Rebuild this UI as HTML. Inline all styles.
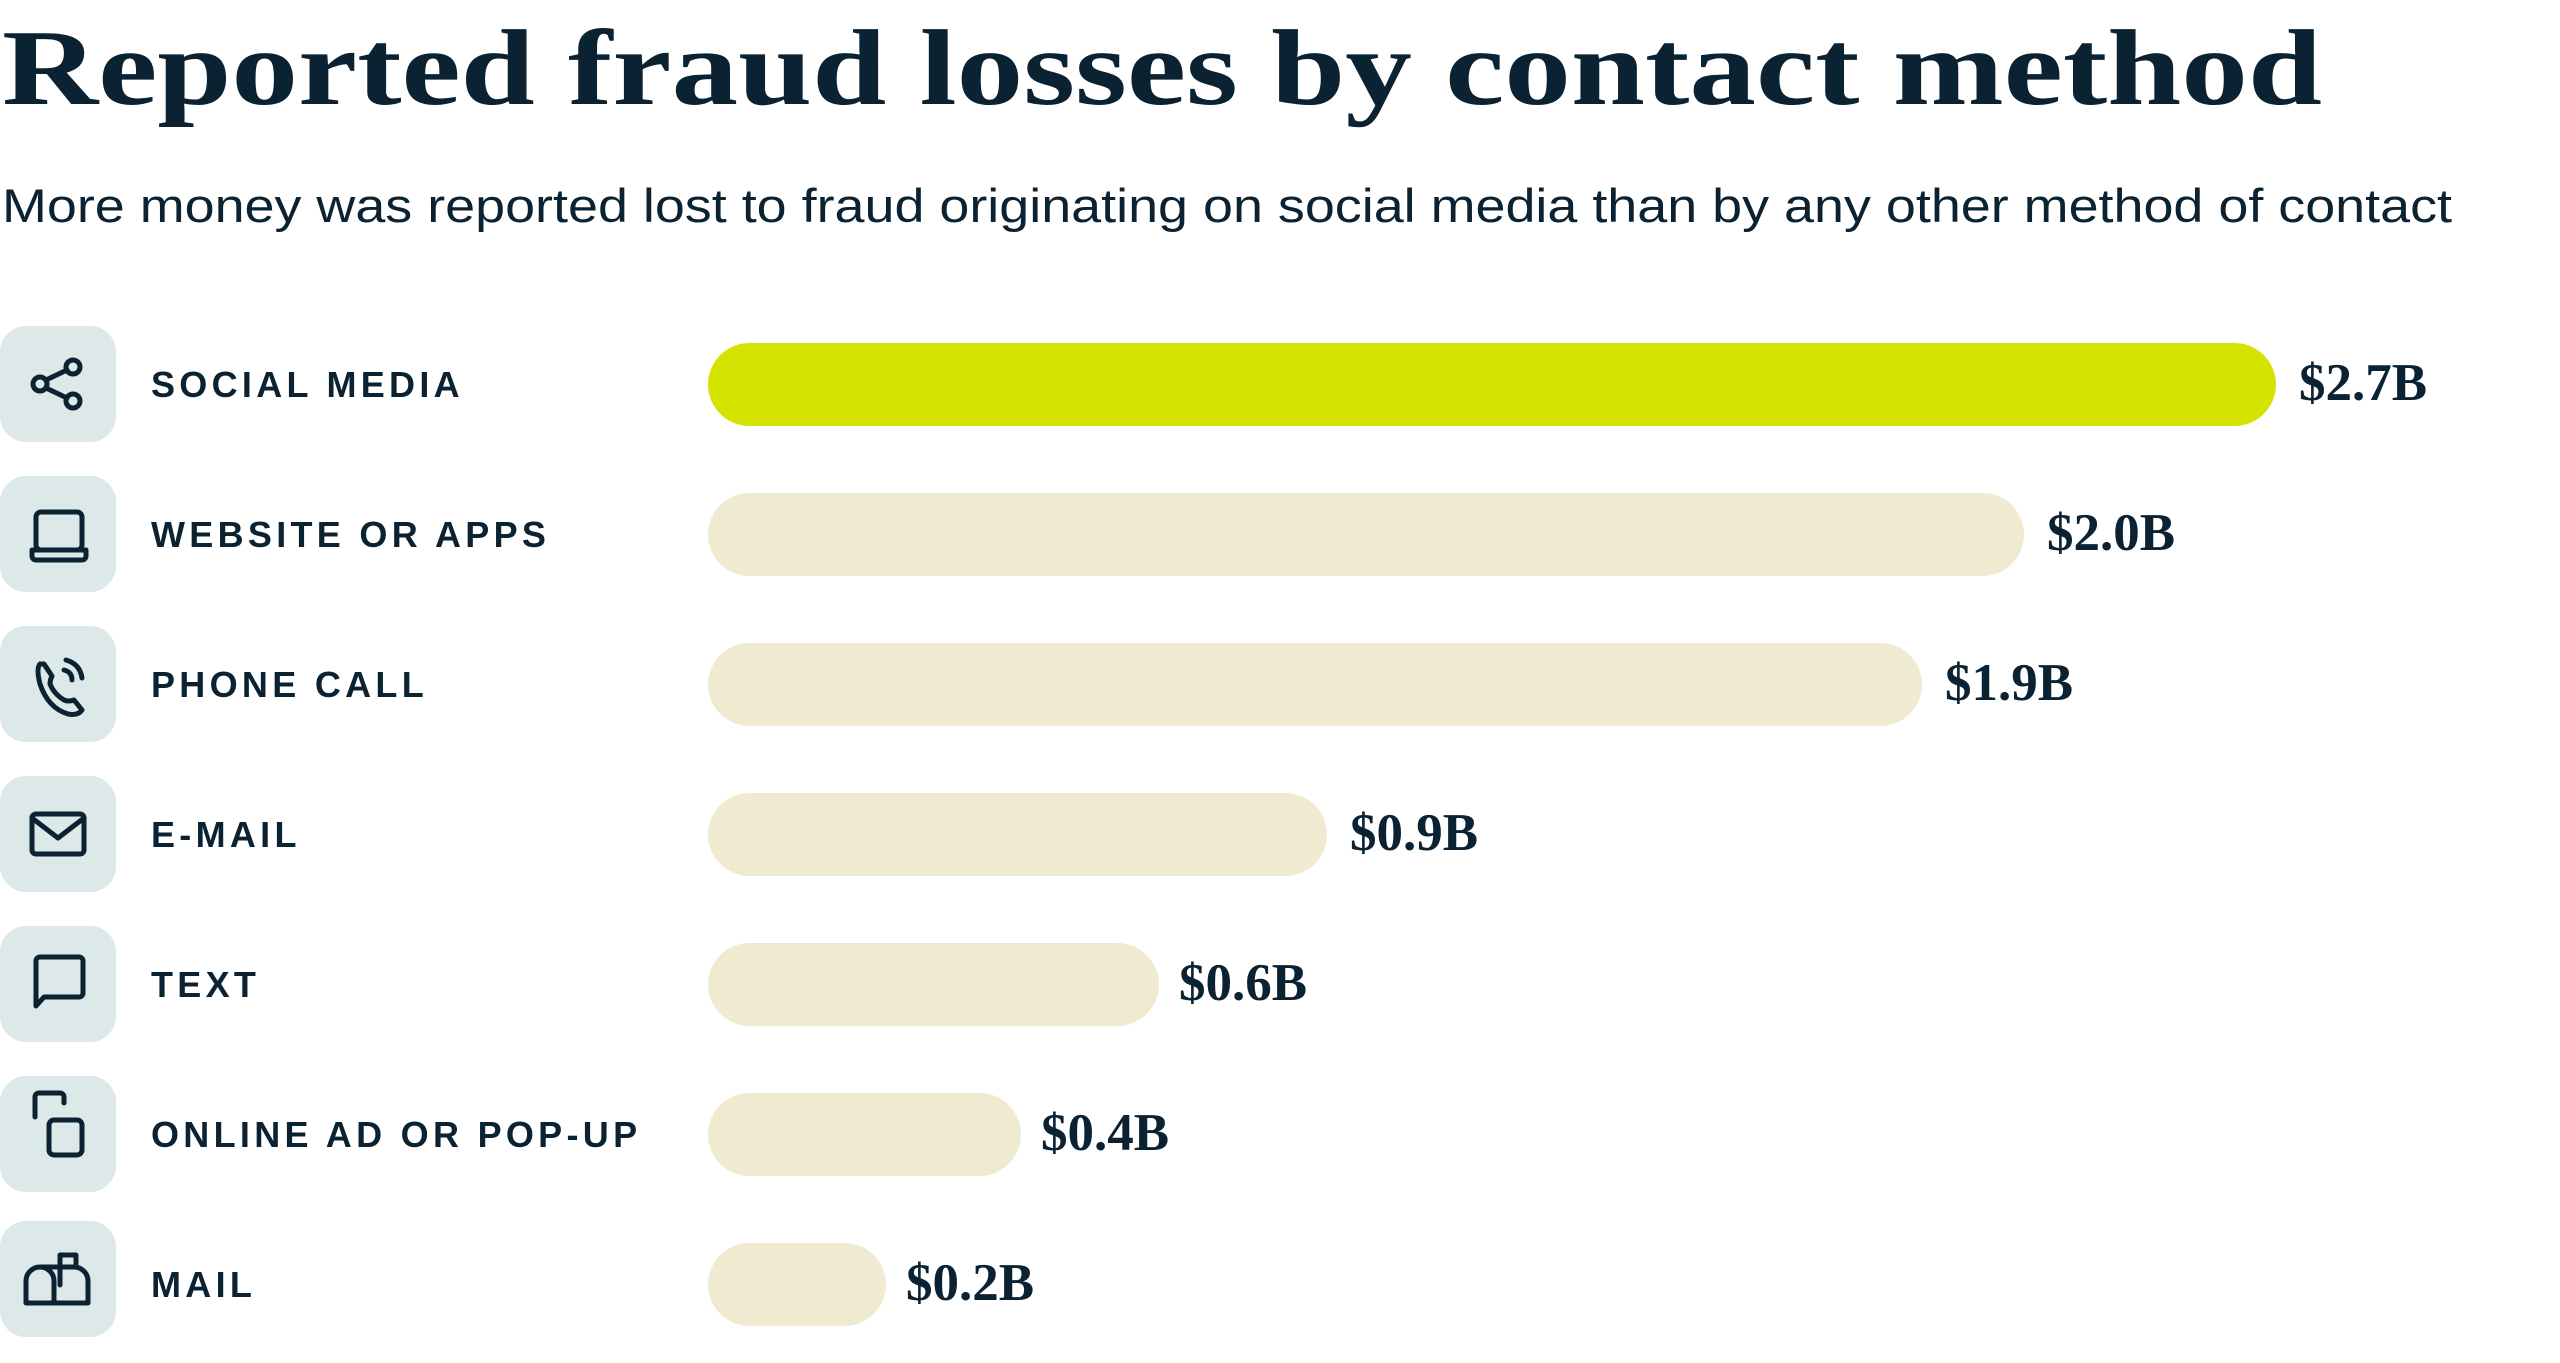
<!DOCTYPE html>
<html><head><meta charset="utf-8"><style>
html,body{margin:0;padding:0;background:#fff;}
svg{display:block;}
.t{font-family:"Liberation Serif",serif;font-weight:bold;fill:#0b2233;}
.s{font-family:"Liberation Sans",sans-serif;fill:#0b2233;}
.l{font-family:"Liberation Sans",sans-serif;font-weight:bold;fill:#0b2233;font-size:36px;letter-spacing:4.3px;}
.v{font-family:"Liberation Serif",serif;font-weight:bold;fill:#0b2233;font-size:53px;}
.i{fill:none;stroke:#0b2233;stroke-width:5;stroke-linecap:round;stroke-linejoin:round;}
</style></head><body>
<svg width="2560" height="1363" viewBox="0 0 2560 1363" xmlns="http://www.w3.org/2000/svg">
<text class="t" x="2" y="104" font-size="108" textLength="2320" lengthAdjust="spacingAndGlyphs">Reported fraud losses by contact method</text>
<text class="s" x="2" y="222" font-size="47" textLength="2450" lengthAdjust="spacingAndGlyphs">More money was reported lost to fraud originating on social media than by any other method of contact</text>

<g fill="#dde8e8">
<rect x="0" y="326" width="116" height="116" rx="26"/>
<rect x="0" y="476" width="116" height="116" rx="26"/>
<rect x="0" y="626" width="116" height="116" rx="26"/>
<rect x="0" y="776" width="116" height="116" rx="26"/>
<rect x="0" y="926" width="116" height="116" rx="26"/>
<rect x="0" y="1076" width="116" height="116" rx="26"/>
<rect x="0" y="1221" width="116" height="116" rx="26"/>
</g>

<g class="i">
<circle cx="40" cy="384" r="7"/><circle cx="73" cy="367" r="7"/><circle cx="73" cy="401" r="7"/>
<line x1="46" y1="380" x2="67" y2="370"/><line x1="46" y1="388" x2="67" y2="398"/>
<rect x="36" y="512" width="46" height="38" rx="5"/><path d="M32 550 h54 v6 a4 4 0 0 1 -4 4 h-46 a4 4 0 0 1 -4 -4z"/>
<path d="M40 664 q-4 4 0 20 q8 24 28 30 q10 2 14 -4 l-8 -10 q-6 2 -10 0 q-10 -6 -14 -16 q0 -4 2 -8 l-8 -12z"/>
<path d="M66 660 q14 4 16 18"/><path d="M64 670 q8 2 8 10"/>
<rect x="32" y="814" width="52" height="40" rx="4"/><path d="M32 818 l26 20 l26 -20"/>
<path d="M36 1006 l8 -9 h35 a4 4 0 0 0 4 -4 v-32 a4 4 0 0 0 -4 -4 h-39 a4 4 0 0 0 -4 4 z"/>
<path d="M35 1117 v-20 a4 4 0 0 1 4 -4 h21 a4 4 0 0 1 4 4 v6"/><rect x="49" y="1120" width="33" height="35" rx="5"/>
<path d="M26 1303 v-22 a14 14 0 0 1 28 0 v22 z M40 1267 h34 a14 14 0 0 1 14 14 v22 h-34"/><path d="M60 1285 v-30 h16 v12 h-16"/>
</g>

<g class="l">
<text x="151" y="397">SOCIAL MEDIA</text>
<text x="151" y="547">WEBSITE OR APPS</text>
<text x="151" y="697">PHONE CALL</text>
<text x="151" y="847">E-MAIL</text>
<text x="151" y="997">TEXT</text>
<text x="151" y="1147">ONLINE AD OR POP-UP</text>
<text x="151" y="1297">MAIL</text>
</g>

<rect x="708" y="343" width="1568" height="83" rx="41.5" fill="#d4e300"/>
<g fill="#f0ead0">
<rect x="708" y="493" width="1316" height="83" rx="41.5"/>
<rect x="708" y="643" width="1214" height="83" rx="41.5"/>
<rect x="708" y="793" width="619" height="83" rx="41.5"/>
<rect x="708" y="943" width="451" height="83" rx="41.5"/>
<rect x="708" y="1093" width="313" height="83" rx="41.5"/>
<rect x="708" y="1243" width="178" height="83" rx="41.5"/>
</g>
<g class="v">
<text x="2299" y="400">$2.7B</text>
<text x="2047" y="550">$2.0B</text>
<text x="1945" y="700">$1.9B</text>
<text x="1350" y="850">$0.9B</text>
<text x="1179" y="1000">$0.6B</text>
<text x="1041" y="1150">$0.4B</text>
<text x="906" y="1300">$0.2B</text>
</g>
</svg>
</body></html>
